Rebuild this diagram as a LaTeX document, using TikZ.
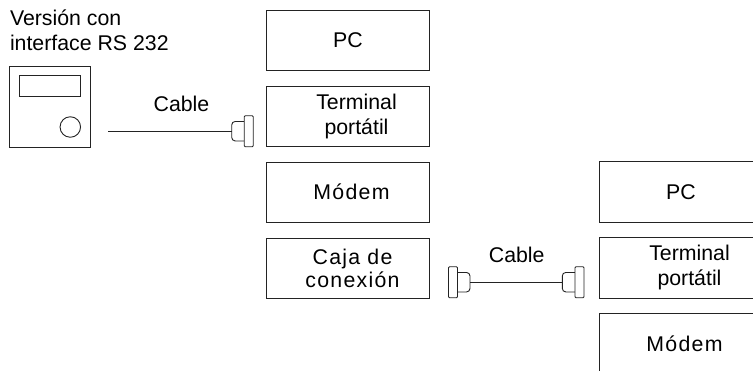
\documentclass[tikz,border=0pt]{standalone}
\usepackage{fontspec}
\setmainfont{Liberation Sans}
\newfontfamily\widefont[LetterSpace=6]{Liberation Sans}
\usetikzlibrary{positioning}
\definecolor{myline}{RGB}{35,35,35}
\begin{document}
\begin{tikzpicture}[x=1pt,y=-1pt,line width=0.9pt,draw=myline,
  every node/.style={font=\fontsize{21.3}{25}\selectfont,text=black,outer sep=0pt,inner sep=0pt},
  devbox/.style={draw,minimum width=163pt,minimum height=60.5pt},
  wide/.style={font=\fontsize{21.3}{22.5}\widefont\selectfont},
  plate/.style={draw,fill=white,rounded corners=1pt,minimum width=9pt,minimum height=31pt},
  shell/.style={draw,rounded corners=3.5pt,minimum width=18pt,minimum height=19.5pt}]

  \path[use as bounding box,clip] (0,0) rectangle (753,370);

  % left column of boxes
  \node[devbox,anchor=north west] (pc1) at (266.5,10) {PC};
  \node[devbox,below=15.5pt of pc1,label={[xshift=8.5pt,align=center]center:Terminal\\port\'atil}] (term1) {};
  \node[devbox,below=15.5pt of term1,label={[xshift=3.5pt,wide]center:M\'odem}] (mod1) {};
  \node[devbox,below=15.5pt of mod1,label={[xshift=4.5pt,wide,align=center]center:Caja de\\conexi\'on}] (box1) {};

  % right column, runs off the page
  \node[devbox,anchor=north west] (pc2) at (599.5,161.5) {PC};
  \node[devbox,below=15.5pt of pc2,label={[xshift=8.5pt,align=center]center:Terminal\\port\'atil}] (term2) {};
  \node[devbox,below=15.5pt of term2,label={[xshift=3.5pt,wide]center:M\'odem}] (mod2) {};

  % the instrument
  \node[anchor=west,align=left] (title) at (10,30.5) {Versi\'on con\\interface RS 232};
  \node[draw,minimum size=81pt,anchor=north west] (unit) at (9.5,66) {};
  \node[draw,minimum width=61.5pt,minimum height=20.5pt,anchor=north west] (display) at (19,75.5) {};
  \node[draw,circle,minimum size=20.5pt] (knob) at (70.3,127) {};

  % upper cable
  \coordinate (free1) at (108,131.2);
  \node[shell] (shell1) at (240.7,131.2) {};
  \node[plate] (plug1) at (248.7,131.2) {};
  \draw (free1) -- (shell1.west);
  \node (cable1) at (181.5,103.5) {Cable};

  % lower cable
  \node[shell] (shell2) at (461,282.2) {};
  \node[plate] (plug2) at (453,282.2) {};
  \node[shell] (shell3) at (571.3,282.2) {};
  \node[plate] (plug3) at (579.5,282.2) {};
  \draw (shell2.east) -- (shell3.west);
  \node (cable2) at (516.7,254.5) {Cable};
\end{tikzpicture}
\end{document}
